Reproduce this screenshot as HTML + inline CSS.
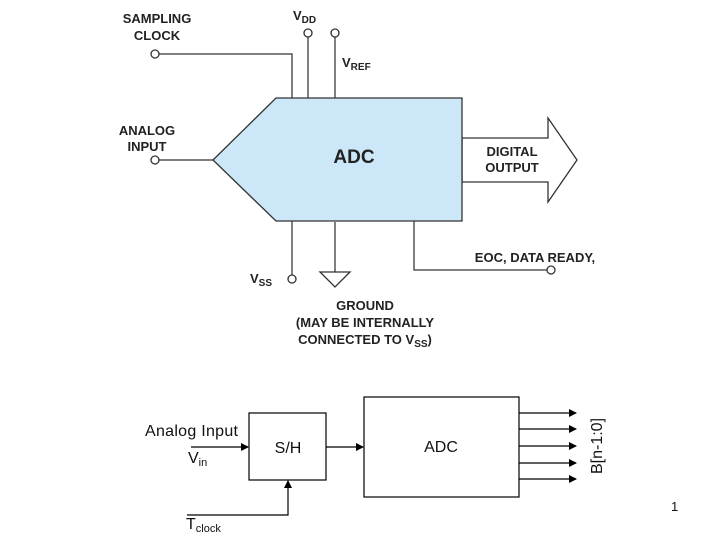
<!DOCTYPE html>
<html><head><style>body{margin:0;background:#fff}svg{display:block}</style></head><body>
<svg width="720" height="540" xmlns="http://www.w3.org/2000/svg" font-family="Liberation Sans, sans-serif">
<defs><marker id="a" markerWidth="8" markerHeight="8" refX="7" refY="4" orient="auto" markerUnits="userSpaceOnUse"><path d="M0,0 L8,4 L0,8 Z" fill="#000"/></marker></defs>
<g stroke="#555" stroke-width="1.5" fill="none">
<polyline points="159,54 292,54 292,98"/>
<line x1="308" y1="37" x2="308" y2="98"/>
<line x1="335" y1="37" x2="335" y2="98"/>
<line x1="159" y1="160" x2="213" y2="160"/>
<line x1="292" y1="221" x2="292" y2="275"/>
<line x1="335" y1="222" x2="335" y2="272"/>
<polyline points="414,221 414,270 547,270"/>
</g>
<g stroke="#333" stroke-width="1.3" fill="#fff">
<circle cx="155" cy="54" r="4"/><circle cx="308" cy="33" r="4"/><circle cx="335" cy="33" r="4"/>
<circle cx="155" cy="160" r="4"/><circle cx="292" cy="279" r="4"/><circle cx="551" cy="270" r="4"/>
<polygon points="320,272 350,272 335,287"/>
<polygon points="462,138 548,138 548,118 577,160 548,202 548,182 462,182"/>
</g>
<polygon points="213,160 276,98 462,98 462,221 276,221" fill="#cce8f8" stroke="#333" stroke-width="1.3"/>
<g font-weight="bold" font-size="13" fill="#222" text-anchor="middle">
<text x="157" y="23">SAMPLING</text><text x="157" y="40">CLOCK</text>
<text x="147" y="135">ANALOG</text><text x="147" y="151">INPUT</text>
<text x="354" y="163" font-size="19">ADC</text>
<text x="512" y="156">DIGITAL</text><text x="512" y="172">OUTPUT</text>
<text x="535" y="262">EOC, DATA READY,</text>
<text x="365" y="310">GROUND</text>
<text x="365" y="327">(MAY BE INTERNALLY</text>
<text x="365" y="344">CONNECTED TO V<tspan font-size="10" dy="3">SS</tspan><tspan dy="-3">)</tspan></text>
</g>
<g font-weight="bold" font-size="13" fill="#222">
<text x="293" y="20">V<tspan font-size="10" dy="3">DD</tspan></text>
<text x="342" y="67">V<tspan font-size="10" dy="3">REF</tspan></text>
<text x="250" y="283">V<tspan font-size="10" dy="3">SS</tspan></text>
</g>
<g stroke="#000" stroke-width="1.2" fill="none">
<rect x="249" y="413" width="77" height="67"/>
<rect x="364" y="397" width="155" height="100"/>
<line x1="191" y1="447" x2="248" y2="447" marker-end="url(#a)"/>
<line x1="326" y1="447" x2="363" y2="447" marker-end="url(#a)"/>
<polyline points="187,515 288,515 288,481" marker-end="url(#a)"/>
<line x1="519" y1="413" x2="576" y2="413" marker-end="url(#a)"/>
<line x1="519" y1="429" x2="576" y2="429" marker-end="url(#a)"/>
<line x1="519" y1="446" x2="576" y2="446" marker-end="url(#a)"/>
<line x1="519" y1="463" x2="576" y2="463" marker-end="url(#a)"/>
<line x1="519" y1="479" x2="576" y2="479" marker-end="url(#a)"/>
</g>
<g font-size="16" fill="#111">
<text x="145" y="436" textLength="93">Analog Input</text>
<text x="188" y="463">V<tspan font-size="11" dy="3">in</tspan></text>
<text x="186" y="529">T<tspan font-size="11" dy="3">clock</tspan></text>
<text x="288" y="453" text-anchor="middle">S/H</text>
<text x="441" y="452" text-anchor="middle">ADC</text>
<text transform="translate(602,446) rotate(-90)" text-anchor="middle">B[n-1:0]</text>
<text x="671" y="511" font-size="13">1</text>
</g>
</svg>
</body></html>
